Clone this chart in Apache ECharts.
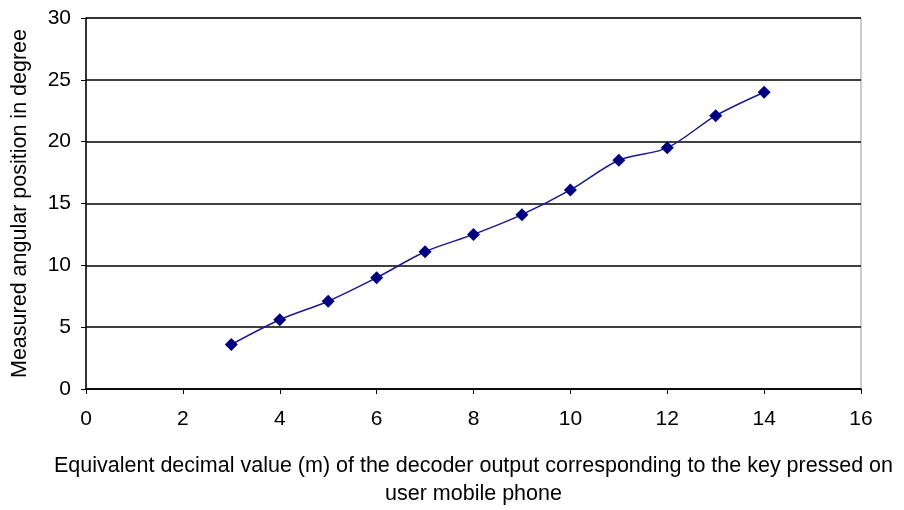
<!DOCTYPE html>
<html>
<head>
<meta charset="utf-8">
<script src="https://cdn.jsdelivr.net/npm/echarts@6/dist/echarts.min.js"></script>
<style>html,body{margin:0;padding:0;background:#fff;}#c{width:904px;height:510px;}</style>
</head>
<body>
<div id="c"></div>
<script>
const xValues = [3, 4, 5, 6, 7, 8, 9, 10, 11, 12, 13, 14];
const yValues = [3.6, 5.6, 7.1, 9.0, 11.1, 12.5, 14.1, 16.1, 18.5, 19.5, 22.1, 24.0];
const xTitle = 'Equivalent decimal value (m) of the decoder output corresponding to the key pressed on\nuser mobile phone';
const yTitle = 'Measured angular position in degree';

const chart = echarts.init(document.getElementById('c'));
const font = 'Liberation Sans, Arial, sans-serif';
chart.setOption({
  animation: false,
  backgroundColor: '#ffffff',
  grid: { left: 86, right: 43, top: 18, bottom: 121, containLabel: false, outerBoundsMode: 'none',
          show: true, borderColor: '#999999', borderWidth: 1 },
  xAxis: {
    type: 'value', min: 0, max: 16, interval: 2,
    name: xTitle, nameLocation: 'middle', nameGap: 63,
    nameTextStyle: { fontFamily: font, fontSize: 21.5, color: '#000', lineHeight: 28 },
    axisLine: { show: true, onZero: false, lineStyle: { color: '#000', width: 1.5 } },
    axisTick: { show: true, inside: false, length: 5, lineStyle: { color: '#000' } },
    axisLabel: { fontFamily: font, fontSize: 21, color: '#000', margin: 20 },
    splitLine: { show: false }
  },
  yAxis: {
    type: 'value', min: 0, max: 30, interval: 5,
    name: yTitle, nameLocation: 'middle', nameGap: 55,
    nameTextStyle: { fontFamily: font, fontSize: 21.5, color: '#000' },
    axisLine: { show: true, onZero: false, lineStyle: { color: '#000', width: 1.5 } },
    axisTick: { show: true, inside: false, length: 5, lineStyle: { color: '#000' } },
    axisLabel: { fontFamily: font, fontSize: 21, color: '#000', margin: 15 },
    splitLine: { show: true, lineStyle: { color: '#000', width: 1.5 } }
  },
  series: [{
    type: 'line',
    data: xValues.map((x, i) => [x, yValues[i]]),
    smooth: 0.3,
    symbol: 'diamond', symbolSize: 13,
    itemStyle: { color: '#000080' },
    lineStyle: { color: '#1a1a90', width: 1.5 }
  }]
});
</script>
</body>
</html>
